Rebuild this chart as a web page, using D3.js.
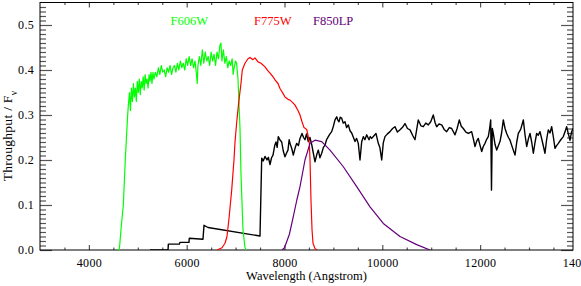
<!DOCTYPE html>
<html>
<head>
<meta charset="utf-8">
<script src="https://cdn.jsdelivr.net/npm/d3@7"></script>
<style>
  body { margin: 0; background: #fff; }
  svg { display: block; font-family: "Liberation Serif", "Times New Roman", serif; }
</style>
</head>
<body>
<div id="vis"></div>
<script>
//-- Setup
var width = 581;
var height = 286;
var plotLeft = 40, plotRight = 573, plotTop = 2.5, plotBottom = 250;

// filter names shown at the top of the plot
var filterNames = ["F606W", "F775W", "F850LP"];
var filterColors = ["#00ff00", "#ff0000", "#64007a"];

// x ticks (Angstrom) and y ticks
var xMajor = [4000, 6000, 8000, 10000, 12000, 14000];
var yMajor = [0.0, 0.1, 0.2, 0.3, 0.4, 0.5];

// F606W throughput [wavelength, value]
var f606w = [
  [4560, 0], [4622, 0], [4660, 0.05], [4704, 0.1], [4744, 0.2], [4793, 0.3], [4806, 0.32],
  [4830, 0.35], [4850, 0.31], [4870, 0.36], [4890, 0.33], [4910, 0.37], [4930, 0.34],
  [4950, 0.36], [4970, 0.33], [4990, 0.375], [5010, 0.35], [5030, 0.38], [5050, 0.345],
  [5070, 0.375], [5090, 0.36], [5110, 0.385], [5130, 0.355], [5150, 0.39], [5170, 0.37],
  [5190, 0.38], [5210, 0.36], [5230, 0.39], [5250, 0.375], [5270, 0.395], [5290, 0.37],
  [5310, 0.395], [5330, 0.38], [5360, 0.395], [5390, 0.385], [5420, 0.405], [5450, 0.39],
  [5480, 0.41], [5510, 0.395], [5540, 0.4], [5570, 0.385], [5600, 0.405], [5630, 0.395],
  [5660, 0.41], [5690, 0.39], [5720, 0.405], [5750, 0.41], [5780, 0.395], [5810, 0.415],
  [5840, 0.4], [5870, 0.42], [5900, 0.405], [5930, 0.415], [5960, 0.4], [5990, 0.425],
  [6020, 0.41], [6050, 0.43], [6080, 0.41], [6110, 0.425], [6140, 0.405], [6170, 0.42],
  [6200, 0.39], [6215, 0.37], [6230, 0.41], [6260, 0.43], [6290, 0.41], [6320, 0.445],
  [6350, 0.415], [6380, 0.44], [6410, 0.42], [6440, 0.43], [6470, 0.41], [6500, 0.44],
  [6530, 0.42], [6560, 0.435], [6590, 0.41], [6620, 0.44], [6650, 0.425], [6680, 0.455],
  [6700, 0.46], [6720, 0.42], [6750, 0.445], [6780, 0.415], [6810, 0.43], [6840, 0.405],
  [6870, 0.42], [6900, 0.41], [6930, 0.425], [6950, 0.39], [6970, 0.405], [7000, 0.42],
  [7020, 0.415], [7049, 0.38], [7090, 0.27], [7110, 0.17], [7151, 0.045], [7192, 0.005],
  [7220, 0]
];

// F775W throughput
var f775w = [
  [6620, 0], [6722, 0.005], [6783, 0.015], [6824, 0.03], [6865, 0.07], [6920, 0.133],
  [6967, 0.2], [6988, 0.24], [7028, 0.29], [7069, 0.333], [7110, 0.37], [7137, 0.4],
  [7192, 0.415], [7254, 0.425], [7295, 0.428], [7356, 0.423], [7397, 0.427], [7458, 0.418],
  [7520, 0.415], [7601, 0.407], [7663, 0.398], [7704, 0.393], [7765, 0.385], [7806, 0.378],
  [7867, 0.37], [7908, 0.359], [7969, 0.348], [8010, 0.34], [8071, 0.335], [8113, 0.333],
  [8174, 0.327], [8215, 0.322], [8276, 0.31], [8317, 0.3], [8358, 0.285], [8399, 0.272],
  [8454, 0.268], [8481, 0.255], [8508, 0.238], [8522, 0.2], [8542, 0.11], [8563, 0.045],
  [8583, 0.015], [8624, 0.003], [8665, 0]
];

// F850LP throughput
var f850lp = [
  [7950, 0], [8000, 0.005], [8100, 0.035], [8180, 0.074], [8250, 0.11], [8317, 0.141],
  [8419, 0.2], [8522, 0.237], [8624, 0.244], [8761, 0.241], [8931, 0.222], [9203, 0.185],
  [9477, 0.141], [9749, 0.096], [10021, 0.059], [10362, 0.03], [10704, 0.012], [10976, 0]
];

// source spectrum
var spectrum = [
  [5250, 0], [5618, 0], [5625, 0.013], [5849, 0.013], [5863, 0.017], [6047, 0.017],
  [6053, 0.026], [6333, 0.024], [6354, 0.055], [6436, 0.05], [7499, 0.031], [7534, 0.204],
  [7565, 0.198], [7601, 0.208], [7642, 0.2], [7670, 0.206], [7704, 0.19], [7735, 0.205],
  [7765, 0.211], [7800, 0.232], [7826, 0.24], [7850, 0.228], [7873, 0.252], [7905, 0.245],
  [7943, 0.24], [7975, 0.22], [8010, 0.207], [8040, 0.215], [8071, 0.222], [8095, 0.245],
  [8113, 0.237], [8150, 0.225], [8180, 0.211], [8215, 0.226], [8250, 0.237], [8285, 0.232],
  [8317, 0.248], [8358, 0.259], [8390, 0.25], [8419, 0.245], [8450, 0.258], [8487, 0.241],
  [8520, 0.25], [8557, 0.234], [8590, 0.215], [8624, 0.196], [8660, 0.212], [8692, 0.222],
  [8725, 0.205], [8761, 0.215], [8795, 0.228], [8829, 0.233], [8860, 0.245], [8896, 0.252],
  [8930, 0.258], [8965, 0.263], [9000, 0.275], [9033, 0.289], [9068, 0.296], [9092, 0.288],
  [9115, 0.285], [9140, 0.295], [9170, 0.293], [9200, 0.282], [9237, 0.285], [9270, 0.272],
  [9305, 0.278], [9340, 0.265], [9374, 0.26], [9410, 0.25], [9442, 0.241], [9475, 0.248],
  [9509, 0.237], [9544, 0.2], [9578, 0.24], [9612, 0.252], [9645, 0.245], [9681, 0.256],
  [9728, 0.245], [9755, 0.252], [9783, 0.248], [9830, 0.254], [9871, 0.259], [9918, 0.237],
  [9950, 0.228], [9988, 0.2], [10020, 0.238], [10055, 0.252], [10105, 0.258], [10158, 0.263],
  [10210, 0.27], [10260, 0.274], [10310, 0.262], [10362, 0.267], [10410, 0.272],
  [10464, 0.281], [10515, 0.27], [10567, 0.267], [10620, 0.255], [10669, 0.245],
  [10736, 0.289], [10790, 0.276], [10838, 0.274], [10890, 0.282], [10941, 0.278],
  [10990, 0.285], [11043, 0.3], [11080, 0.283], [11112, 0.274], [11160, 0.28],
  [11215, 0.278], [11265, 0.268], [11317, 0.263], [11370, 0.272], [11419, 0.27],
  [11487, 0.256], [11530, 0.27], [11575, 0.289], [11615, 0.275], [11656, 0.27],
  [11710, 0.262], [11759, 0.259], [11827, 0.263], [11860, 0.248], [11896, 0.23],
  [11930, 0.242], [11963, 0.248], [12000, 0.232], [12033, 0.219], [12065, 0.23],
  [12100, 0.237], [12135, 0.246], [12168, 0.252], [12195, 0.27], [12217, 0.289],
  [12233, 0.133], [12250, 0.27], [12270, 0.259], [12305, 0.235], [12340, 0.222],
  [12375, 0.232], [12407, 0.241], [12440, 0.26], [12475, 0.289], [12510, 0.27],
  [12544, 0.259], [12580, 0.25], [12612, 0.244], [12660, 0.228], [12714, 0.211],
  [12750, 0.24], [12782, 0.259], [12830, 0.268], [12884, 0.289], [12920, 0.255],
  [12953, 0.23], [12990, 0.248], [13021, 0.259], [13055, 0.24], [13089, 0.215],
  [13125, 0.24], [13157, 0.259], [13190, 0.255], [13225, 0.263], [13275, 0.24],
  [13327, 0.215], [13360, 0.245], [13395, 0.267], [13430, 0.26], [13464, 0.274],
  [13500, 0.25], [13532, 0.226], [13565, 0.232], [13600, 0.237], [13650, 0.245],
  [13702, 0.252], [13735, 0.262], [13770, 0.274], [13805, 0.258], [13839, 0.244],
  [13870, 0.262], [13900, 0.27]
];

var svg = d3.select("#vis").append("svg")
  .attr("width", width)
  .attr("height", height)
  .attr("viewBox", [0, 0, width, height]);

var x = d3.scaleLinear().domain([3000, 13900]).range([plotLeft, plotRight]);
var y = d3.scaleLinear().domain([0, 0.55]).range([plotBottom, plotTop]);

svg.append("clipPath").attr("id", "plotclip")
  .append("rect")
  .attr("x", plotLeft).attr("y", plotTop)
  .attr("width", plotRight - plotLeft).attr("height", plotBottom - plotTop);

drawAxes();
drawCurves();
drawLabels();

function drawAxes() {
  var xMinor = d3.range(3500, 13900, 500).filter(function (v) { return v % 2000 != 0; });
  var yMinor = d3.range(1, 55).map(function (i) { return i / 100; })
    .filter(function (v) { return Math.round(v * 100) % 10 != 0; });

  // bottom: labels + major ticks
  var gb = svg.append("g").attr("class", "axis")
    .attr("transform", "translate(0," + plotBottom + ")")
    .call(d3.axisBottom(x).tickValues(xMajor).tickSize(-5).tickSizeOuter(0).tickPadding(8)
      .tickFormat(d3.format("d")));
  gb.selectAll(".tick").filter(function (d) { return d > 13900; }).select("line").remove();
  svg.append("g").attr("class", "axis")
    .attr("transform", "translate(0," + plotBottom + ")")
    .call(d3.axisBottom(x).tickValues(xMinor).tickSize(-2.5).tickSizeOuter(0).tickFormat(""));

  // top
  svg.append("g").attr("class", "axis")
    .attr("transform", "translate(0," + plotTop + ")")
    .call(d3.axisTop(x).tickValues(xMajor.filter(function (v) { return v < 13900; }))
      .tickSize(-5).tickSizeOuter(0).tickFormat(""));
  svg.append("g").attr("class", "axis")
    .attr("transform", "translate(0," + plotTop + ")")
    .call(d3.axisTop(x).tickValues(xMinor).tickSize(-2.5).tickSizeOuter(0).tickFormat(""));

  // left
  svg.append("g").attr("class", "axis")
    .attr("transform", "translate(" + plotLeft + ",0)")
    .call(d3.axisLeft(y).tickValues(yMajor).tickSize(-12).tickSizeOuter(0).tickPadding(6)
      .tickFormat(d3.format(".1f")));
  svg.append("g").attr("class", "axis")
    .attr("transform", "translate(" + plotLeft + ",0)")
    .call(d3.axisLeft(y).tickValues(yMinor).tickSize(-6).tickSizeOuter(0).tickFormat(""));

  // right
  svg.append("g").attr("class", "axis")
    .attr("transform", "translate(" + plotRight + ",0)")
    .call(d3.axisRight(y).tickValues(yMajor).tickSize(-12).tickSizeOuter(0).tickFormat(""));
  svg.append("g").attr("class", "axis")
    .attr("transform", "translate(" + plotRight + ",0)")
    .call(d3.axisRight(y).tickValues(yMinor).tickSize(-6).tickSizeOuter(0).tickFormat(""));

  svg.selectAll(".axis .domain").remove();
  svg.selectAll(".axis line").attr("stroke", "#555").attr("stroke-width", 1.2);
  svg.selectAll(".axis text")
    .attr("fill", "#000")
    .style("font-family", "'Liberation Serif', serif")
    .style("font-size", "12px")
    .style("letter-spacing", "0.3px");

  // frame
  svg.append("rect")
    .attr("x", plotLeft).attr("y", plotTop)
    .attr("width", plotRight - plotLeft).attr("height", plotBottom - plotTop)
    .attr("fill", "none").attr("stroke", "#000").attr("stroke-width", 1);
}

function drawCurves() {
  var line = d3.line()
    .x(function (d) { return x(d[0]); })
    .y(function (d) { return y(d[1]); });

  var g = svg.append("g").attr("clip-path", "url(#plotclip)");
  var series = [f606w, f775w, f850lp];

  g.append("path").datum(spectrum)
    .attr("d", line).attr("fill", "none")
    .attr("stroke", "#000").attr("stroke-width", 1.4).attr("stroke-linejoin", "round");

  g.selectAll(".filter")
    .data(series)
    .enter()
    .append("path")
    .attr("class", "filter")
    .attr("d", line)
    .attr("fill", "none")
    .attr("stroke", function (d, i) { return filterColors[i]; })
    .attr("stroke-width", 1.2)
    .attr("stroke-linejoin", "round");
}

function drawLabels() {
  var nameX = [170.5, 254, 313];
  svg.selectAll(".fname")
    .data(filterNames)
    .enter()
    .append("text")
    .attr("class", "fname")
    .attr("x", function (d, i) { return nameX[i]; })
    .attr("y", 25)
    .attr("fill", function (d, i) { return filterColors[i]; })
    .style("font-size", "12.5px")
    .text(function (d) { return d; });

  svg.append("text")
    .attr("x", (plotLeft + plotRight) / 2)
    .attr("y", 280)
    .attr("text-anchor", "middle")
    .style("font-size", "12.5px")
    .text("Wavelength (Angstrom)");

  var yt = svg.append("text")
    .attr("transform", "translate(12,136) rotate(-90)")
    .attr("text-anchor", "middle")
    .style("font-size", "13.5px")
    .style("letter-spacing", "0.3px");
  yt.append("tspan").text("Throughput / F");
  yt.append("tspan").attr("baseline-shift", "sub").style("font-size", "9.5px").text("ν");
}
</script>
</body>
</html>
